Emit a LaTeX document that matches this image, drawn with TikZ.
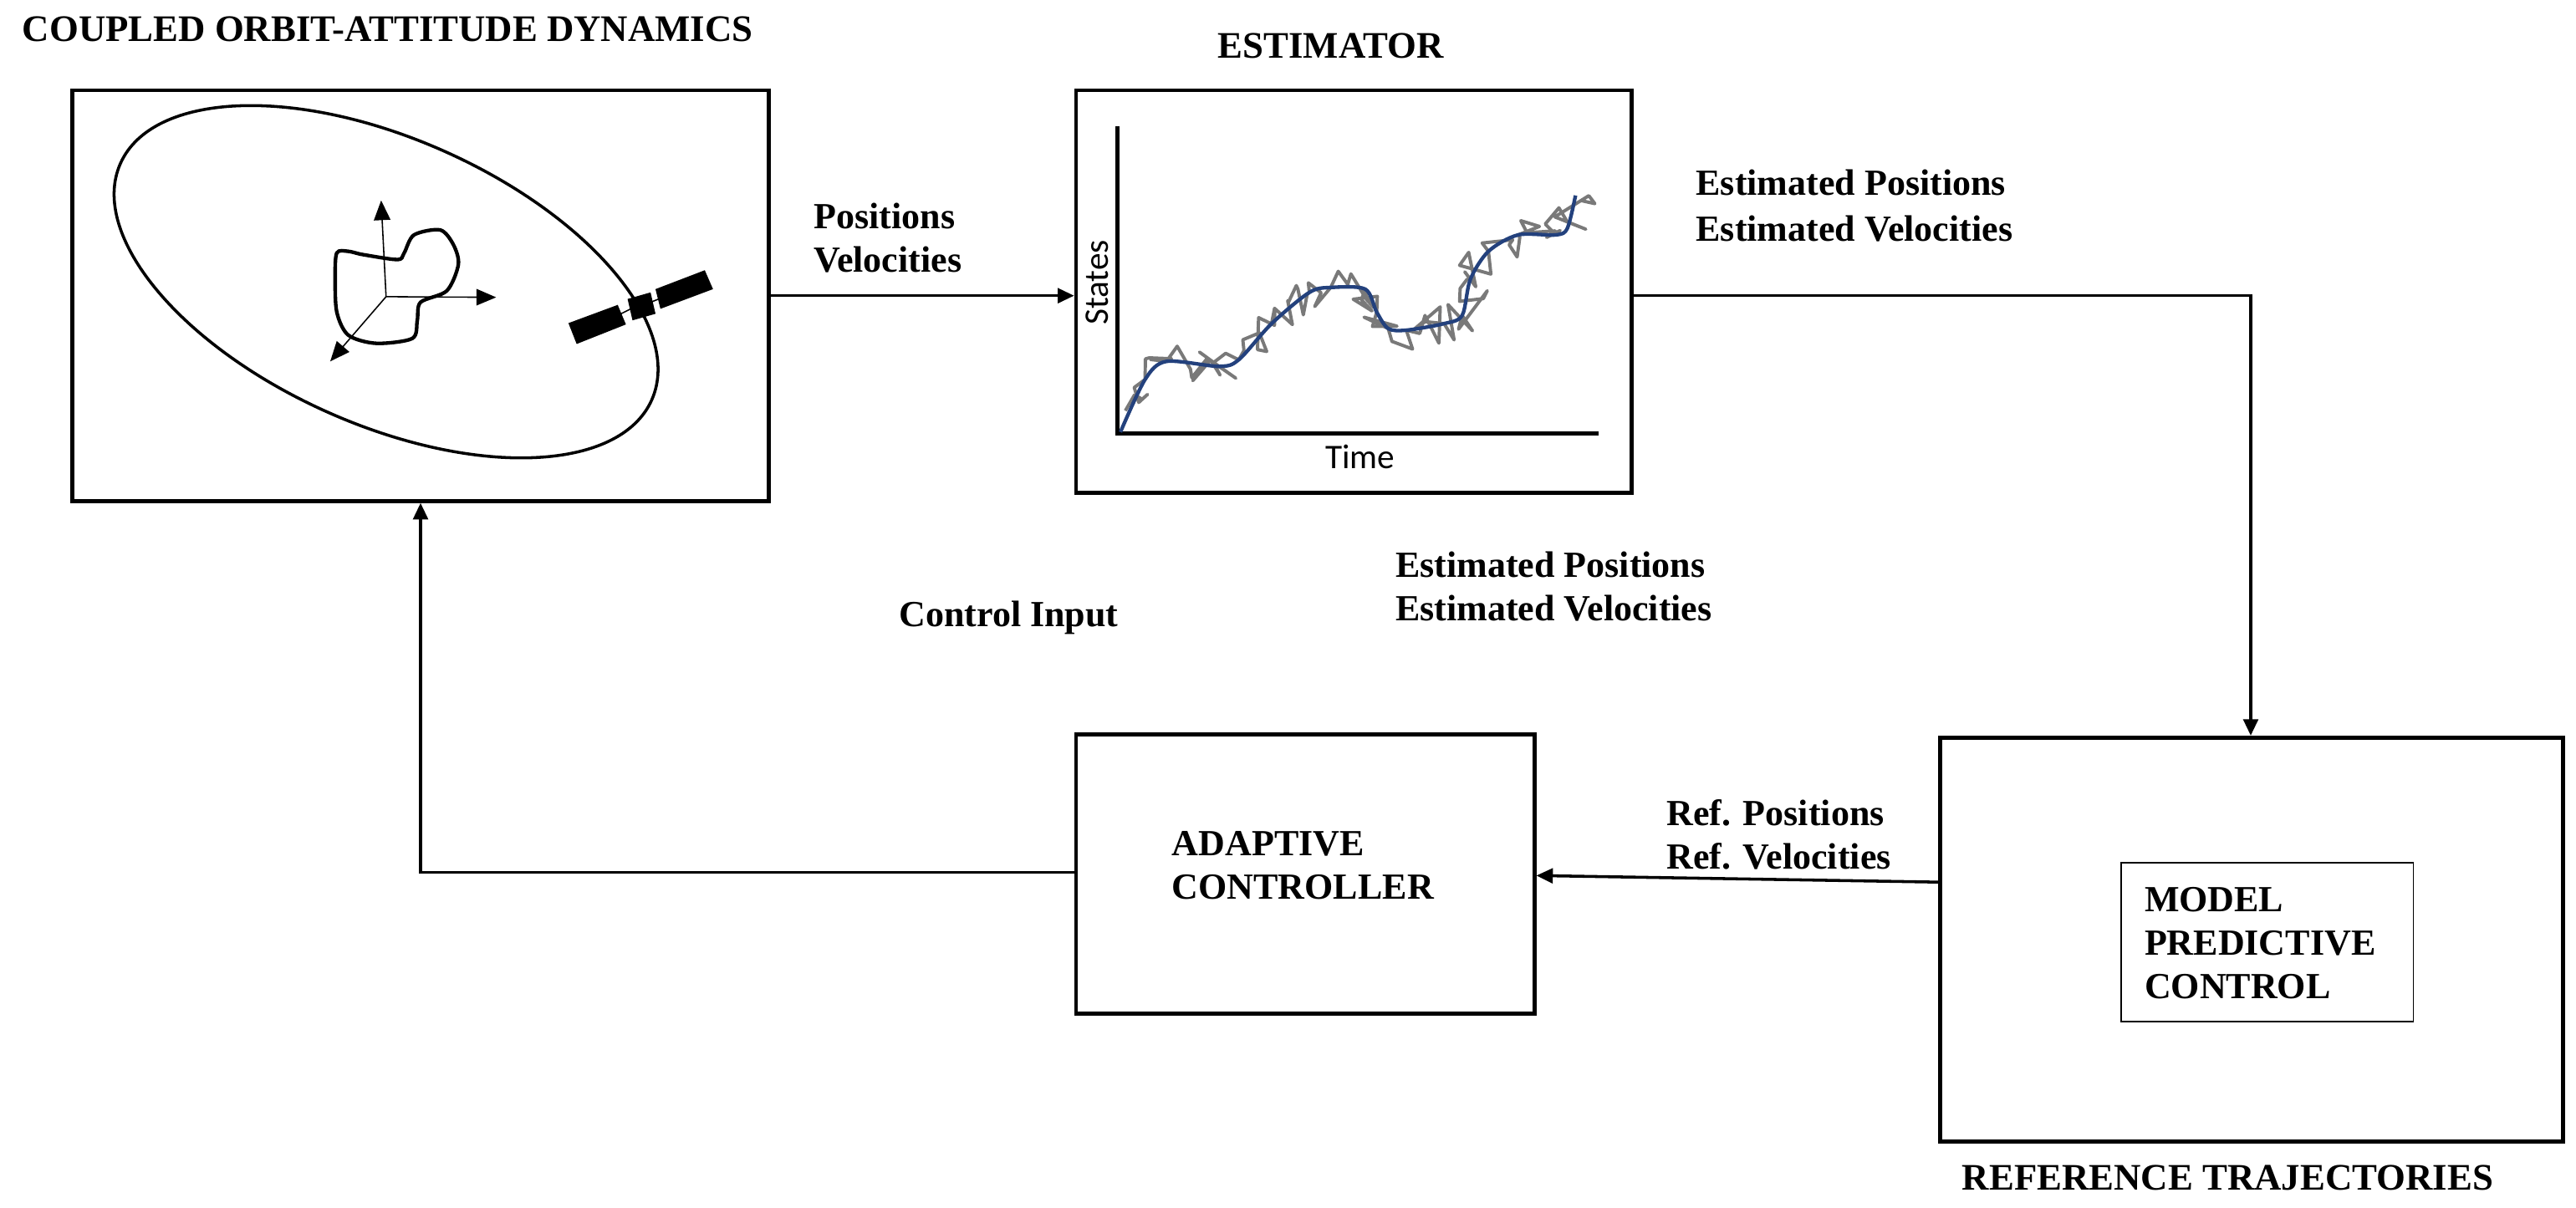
\documentclass[tikz,border=0pt]{standalone}
\usepackage{fontspec}
\setmainfont{Liberation Serif}
\newfontfamily\calib{Carlito}
\usetikzlibrary{arrows.meta,decorations.pathmorphing,shapes.geometric}
\definecolor{fitblue}{RGB}{35,65,125}
\begin{document}
\begin{tikzpicture}[x=0.5pt,y=-0.5pt,
  box/.style={draw,line width=1.2pt,inner sep=0pt},
  lbl/.style={font=\bfseries\fontsize{11.2}{13}\selectfont,inner sep=0pt},
  two/.style={lbl,align=left,anchor=west,font=\bfseries\fontsize{11.2}{13.2}\selectfont},
  ttl/.style={lbl,font=\bfseries\fontsize{11.4}{13}\selectfont},
  conn/.style={line width=0.9pt,-{Triangle[length=5pt,width=4.5pt]}},
  ax/.style={line width=0.4pt,-{Triangle[length=6pt,width=5pt]}}]
\useasboundingbox (0,0) rectangle (1568,735);
% boxes
\node[box,minimum width=212pt,minimum height=125pt] (dyn) at (256,180) {};
\node[box,minimum width=169pt,minimum height=122.5pt] (est) at (824,177.5) {};
\node[box,minimum width=139.5pt,minimum height=85pt] (ac) at (794.5,532) {};
\node[box,minimum width=189.5pt,minimum height=123pt] (ref) at (1370.5,572) {};
\node[draw,line width=0.5pt,minimum width=89pt,minimum height=48.5pt] (mpc) at (1380,573.5) {};
% titles
\node[ttl] (t1) at (236,18) {COUPLED ORBIT-ATTITUDE DYNAMICS};
\node[ttl] (t2) at (810,28) {ESTIMATOR};
\node[ttl] (t3) at (1356,717) {REFERENCE TRAJECTORIES};
\node[two] (acl) at (713,527) {ADAPTIVE\\CONTROLLER};
\node[two,font=\bfseries\fontsize{11.2}{13.2}\selectfont] (mpcl) at (1305,574) {MODEL\\PREDICTIVE\\CONTROL};
% orbit scene
\node[draw,line width=0.9pt,ellipse,minimum width=177pt,minimum height=87pt,rotate=-24,inner sep=0pt] (orb) at (235,171.5) {};
\draw[line width=1.1pt] plot[smooth cycle,tension=0.5] coordinates {(205,154)(212,153)(221,155)(242,158)(246,154)(252,143)(268,140)(276,149)(279,161)(272,177)(256,184)(254,195)(251,206)(229,209)(212,204)(205,190)(204,169)};
\coordinate (o) at (235,180.6);
\coordinate (oy) at (232,122);
\coordinate (ox) at (302,181);
\coordinate (oz) at (201,220);
\draw[ax] (o) -- (oy);
\draw[ax] (o) -- (ox);
\draw[ax] (o) -- (oz);
\fill (346,196.7) -- (376,185.6) -- (381,197.5) -- (351,209.4) -- cycle;
\fill (399,176) -- (429,164.5) -- (434,176) -- (402,188) -- cycle;
\fill (382,182) -- (396,178) -- (399,191) -- (385,195) -- cycle;
\draw[line width=0.4pt] (378,191) -- (384,188) (396,184) -- (401,182);
% plot
\coordinate (po) at (680,264);
\draw[line width=1.2pt] (680,77) -- (po) -- (973,264);
\node[font=\calib\fontsize{10.5}{12}\selectfont,inner sep=0pt] (tl) at (828,278) {Time};
\node[font=\calib\fontsize{10.5}{12}\selectfont,inner sep=0pt,rotate=90] (sl) at (668,172) {States};
\pgfmathsetseed{11}
\draw[gray!95!black,line width=1pt,line join=round,decorate,decoration={random steps,segment length=1.6pt,amplitude=6pt}]
 (685,250) -- (697,231) -- (710,220) -- (742,223) -- (754,219) -- (774,197) -- (797,178) -- (810,175) -- (831,176) -- (838,190) -- (845,200) -- (856,201) -- (879,197) -- (890,192) -- (895,170) -- (906,153) -- (924,143) -- (947,143) -- (954,135) -- (962,122);
\draw[fitblue,line width=1.1pt] plot[smooth,tension=0.5] coordinates {(682,263)(697,231)(710,220)(742,223)(754,219)(774,197)(797,178)(810,175)(831,176)(838,190)(845,200)(856,201)(879,197)(890,192)(895,170)(906,153)(924,143)(947,143)(954,139)(959,119)};
% connectors
\draw[conn] (dyn.east |- 0,180) -- (est.west |- 0,180);
\coordinate (c1) at (1370,180);
\draw[conn] (est.east |- c1) -- (c1) -- (ref.north -| c1);
\draw[conn] (ref.west |- 0,537) -- (ac.east |- 0,533);
\coordinate (c2) at (256,531);
\draw[conn] (ac.west |- c2) -- (c2) -- (dyn.south);
% labels
\node[two] (l1) at (495,145) {Positions\\Velocities};
\node[two,font=\bfseries\fontsize{11.2}{14}\selectfont] (l2) at (1032,125) {Estimated Positions\\Estimated Velocities};
\node[two] (l3) at (849,357) {Estimated Positions\\Estimated Velocities};
\node[lbl,anchor=center] (l4) at (614,376) {Control Input};
\node[two] (l5) at (1014,508) {Ref. Positions\\Ref. Velocities};
\end{tikzpicture}
\end{document}
